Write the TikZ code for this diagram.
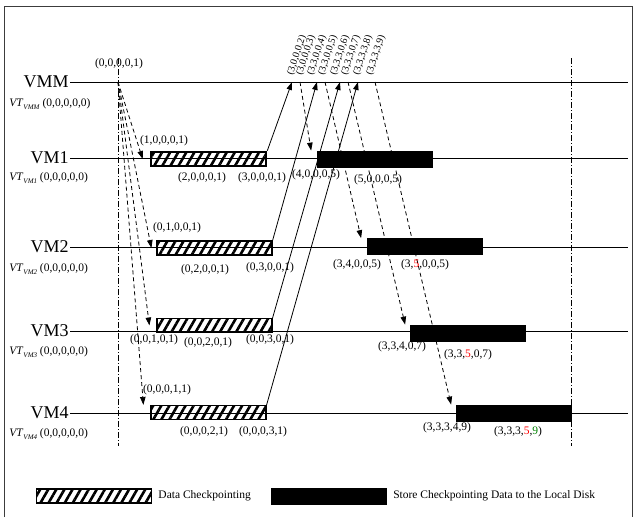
\documentclass[tikz,border=0pt]{standalone}
\usepackage{fontspec}
\setmainfont{Liberation Serif}
\usetikzlibrary{arrows.meta,patterns.meta}

\tikzset{every picture/.style={line width=0.75pt}}
\tikzset{
  vmlabel/.style={font=\fontsize{18}{18}\selectfont, anchor=east, inner sep=1pt},
  vtlabel/.style={font=\fontsize{11.5}{12}\selectfont, anchor=west, inner sep=0pt},
  tup/.style={font=\fontsize{11.5}{12}\selectfont, inner sep=0pt},
  rtup/.style={font=\fontsize{10}{10}\selectfont, inner sep=0pt, rotate=72, anchor=south west},
  ckptbox/.style={draw, line width=1.2pt, minimum width=115pt, minimum height=14pt, inner sep=0pt, pattern={Lines[angle=60,distance=7pt,line width=2.6pt]}},
  diskbox/.style={draw, fill=black, minimum width=115pt, minimum height=16pt, inner sep=0pt},
  msg/.style={-{Triangle[length=8pt,width=5.5pt]}, line width=0.8pt},
  dmsg/.style={msg, dash pattern={on 4pt off 3pt}},
  cutline/.style={line width=0.6pt, dash pattern={on 6pt off 2pt on 1pt off 2pt}},
}
\newcommand{\vtsub}[1]{\textit{VT}\raisebox{-2.5pt}{\fontsize{7}{7}\selectfont\textit{#1}}}

\begin{document}
\begin{tikzpicture}[x=1pt,y=1pt,yscale=-1,xscale=1]

\useasboundingbox (0,0) rectangle (634,517);

%% ---------------- frame ----------------
\draw [line width=1pt, color={rgb, 255:red, 60; green, 60; blue, 60 }] (4,517) -- (4,6) -- (632,6) -- (632,517) ;

%% ---------------- time lines ----------------
\coordinate (vmmA) at (70,82);   \coordinate (vmmB) at (628,82);
\coordinate (vm1A) at (70,158);  \coordinate (vm1B) at (628,158);
\coordinate (vm2A) at (70,247);  \coordinate (vm2B) at (628,247);
\coordinate (vm3A) at (70,331);  \coordinate (vm3B) at (628,331);
\coordinate (vm4A) at (70,413);  \coordinate (vm4B) at (628,413);

\draw (vmmA) -- (vmmB) ;
\draw (vm1A) -- (vm1B) ;
\draw (vm2A) -- (vm2B) ;
\draw (vm3A) -- (vm3B) ;
\draw (vm4A) -- (vm4B) ;

\node [vmlabel] (vmm) at (vmmA) {VMM};
\node [vmlabel] (vm1) at (vm1A) {VM1};
\node [vmlabel] (vm2) at (vm2A) {VM2};
\node [vmlabel] (vm3) at (vm3A) {VM3};
\node [vmlabel] (vm4) at (vm4A) {VM4};

\node [vtlabel] (vtvmm) at (9,104) {\vtsub{VMM} (0,0,0,0,0)};
\node [vtlabel] (vtvm1) at (9,178) {\vtsub{VM1} (0,0,0,0,0)};
\node [vtlabel] (vtvm2) at (9,269) {\vtsub{VM2} (0,0,0,0,0)};
\node [vtlabel] (vtvm3) at (9,352) {\vtsub{VM3} (0,0,0,0,0)};
\node [vtlabel] (vtvm4) at (9,434) {\vtsub{VM4} (0,0,0,0,0)};

%% ---------------- cut lines ----------------
\coordinate (cutA1) at (118,58);  \coordinate (cutA2) at (118,446);
\coordinate (cutB1) at (571,58);  \coordinate (cutB2) at (571,446);
\draw [cutline] (cutA1) -- (cutA2) ;
\draw [cutline] (cutB1) -- (cutB2) ;

%% ---------------- checkpointing (hatched) ----------------
\node [ckptbox] (c1) at (208.5,159) {};
\node [ckptbox] (c2) at (214.5,248) {};
\node [ckptbox] (c3) at (214.5,325.5) {};
\node [ckptbox] (c4) at (208.5,412.5) {};

%% ---------------- store to local disk (black) ----------------
\node [diskbox] (d1) at (375,159) {};
\node [diskbox] (d2) at (425,246.5) {};
\node [diskbox] (d3) at (468,333) {};
\node [diskbox] (d4) at (514,413) {};

%% ---------------- messages ----------------
\coordinate (snap) at (118,82);
\coordinate (r1) at (292,82);  \coordinate (s1) at (300,82);
\coordinate (r2) at (317,82);  \coordinate (s2) at (325,82);
\coordinate (r3) at (340,82);  \coordinate (s3) at (348,82);
\coordinate (r4) at (358,82);  \coordinate (s4) at (375,82);

\draw [dmsg] (snap) -- ([xshift=-7pt]c1.west) ;
\draw [dmsg] (snap) -- ([xshift=-5pt]c2.west) ;
\draw [dmsg] (snap) -- ([xshift=-7pt]c3.west) ;
\draw [dmsg] (snap) -- ([xshift=-7pt]c4.north west) ;

\draw [msg] (c1.north east) -- (r1) ;
\draw [msg] (c2.north east) -- (r2) ;
\draw [msg] (c3.north east) -- (r3) ;
\draw [msg] (c4.north east) -- (r4) ;

\draw [dmsg] (s1) -- ([xshift=-6pt]d1.north west) ;
\draw [dmsg] (s2) -- ([xshift=-6pt]d2.north west) ;
\draw [dmsg] (s3) -- ([xshift=-5pt]d3.north west) ;
\draw [dmsg] (s4) -- ([xshift=-5pt]d4.north west) ;

%% ---------------- vector times ----------------
\node [tup] (t0) at (119,64) {(0,0,0,0,1)};

\node [rtup] (tr1) at (295,77) {(3,0,0,0,2)};
\node [rtup] (ts1) at (304,77) {(3,0,0,0,3)};
\node [rtup] (tr2) at (315,77) {(3,3,0,0,4)};
\node [rtup] (ts2) at (326,77) {(3,3,0,0,5)};
\node [rtup] (tr3) at (338,77) {(3,3,3,0,6)};
\node [rtup] (ts3) at (349,77) {(3,3,3,0,7)};
\node [rtup] (tr4) at (361,77) {(3,3,3,3,8)};
\node [rtup] (ts4) at (374,77) {(3,3,3,3,9)};

\node [tup] (t11) at (164,141) {(1,0,0,0,1)};
\node [tup] (t12) at (202,178) {(2,0,0,0,1)};
\node [tup] (t13) at (262,178) {(3,0,0,0,1)};
\node [tup] (t14) at (316,175) {(4,0,0,0,5)};
\node [tup] (t15) at (378,180) {(5,0,0,0,5)};

\node [tup] (t21) at (177,228) {(0,1,0,0,1)};
\node [tup] (t22) at (205,270) {(0,2,0,0,1)};
\node [tup] (t23) at (270,268) {(0,3,0,0,1)};
\node [tup] (t24) at (357,265) {(3,4,0,0,5)};
\node [tup] (t25) at (425,265) {(3,\textcolor{red}{5},0,0,5)};

\node [tup] (t31) at (154,340) {(0,0,1,0,1)};
\node [tup] (t32) at (208,343) {(0,0,2,0,1)};
\node [tup] (t33) at (270,340) {(0,0,3,0,1)};
\node [tup] (t34) at (402,347) {(3,3,4,0,7)};
\node [tup] (t35) at (468,355) {(3,3,\textcolor{red}{5},0,7)};

\node [tup] (t41) at (167,390) {(0,0,0,1,1)};
\node [tup] (t42) at (204,432) {(0,0,0,2,1)};
\node [tup] (t43) at (263,432) {(0,0,0,3,1)};
\node [tup] (t44) at (447,428) {(3,3,3,4,9)};
\node [tup] (t45) at (518,432) {(3,3,3,\textcolor{red}{5},\textcolor{green!50!black}{9})};

%% ---------------- legend ----------------
\node [ckptbox] (lgc) at (94,496) {};
\node [diskbox] (lgd) at (329,496) {};
\node [tup, anchor=west] (lgct) at ([xshift=6pt]lgc.east) {Data Checkpointing};
\node [tup, anchor=west] (lgdt) at ([xshift=6pt]lgd.east) {Store Checkpointing Data to the Local Disk};

\end{tikzpicture}
\end{document}
